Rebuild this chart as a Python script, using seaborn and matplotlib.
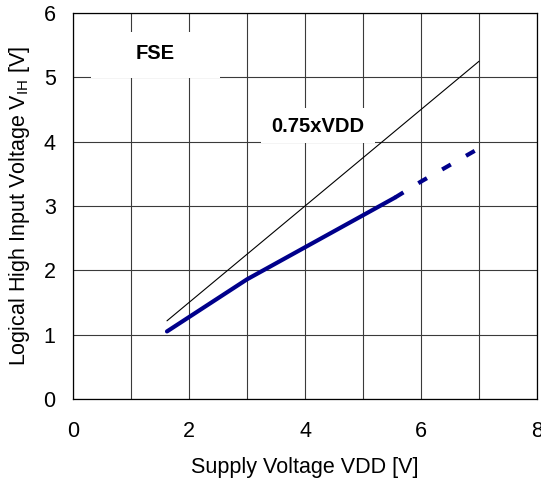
#VIH vs VDD characteristic (FSE pin) redrawn with seaborn
import numpy as np
import pandas as pd
import seaborn as sns
import matplotlib.pyplot as plt
from matplotlib.patches import Rectangle

# measured curve, solid part
vdd_meas = [1.62, 3.0, 5.55]
vih_meas = [1.05, 1.86, 3.13]
# extrapolated part (dashed)
vdd_ext = [5.55, 6.0, 6.0, 6.95]
vih_ext = [3.13, 3.33, 3.43, 3.87]
# reference line 0.75 x VDD
vdd_ref = [1.62, 7.0]
vih_ref = [1.215, 5.25]

xticks = [0, 2, 4, 6, 8]
yticks = [0, 1, 2, 3, 4, 5, 6]

sns.set_style("whitegrid")
plt.rcParams['font.family'] = ['Liberation Sans', 'DejaVu Sans']
plt.rcParams['mathtext.fontset'] = 'custom'
plt.rcParams['mathtext.rm'] = 'Liberation Sans'
for k in ['text.color', 'axes.labelcolor', 'xtick.color', 'ytick.color']:
    plt.rcParams[k] = 'black'

fig = plt.figure(figsize=(5.41, 4.83), dpi=100)
ax = fig.add_axes([0.135, 0.174, 0.8576, 0.799])

measData = pd.DataFrame({"vdd": vdd_meas, "vih": vih_meas})
extData = pd.DataFrame({"vdd": vdd_ext, "vih": vih_ext})
refData = pd.DataFrame({"vdd": vdd_ref, "vih": vih_ref})

sns.lineplot(x="vdd", y="vih", data=refData, color="black", lw=0.8, ax=ax, zorder=3, sort=False)
sns.lineplot(x="vdd", y="vih", data=measData, color="#00008B", lw=3.0, ax=ax, zorder=4,
             sort=False, solid_capstyle="round")
ext = sns.lineplot(x="vdd", y="vih", data=extData, color="#00008B", lw=3.0, ax=ax, zorder=4, sort=False)
ext.lines[-1].set_dashes((2.4, 4.2))

ax.set_xlim(0, 8)
ax.set_ylim(0, 6)
ax.set_xticks(xticks)
ax.set_yticks(yticks)
ax.set_xticks(np.arange(0, 9, 1), minor=True)
ax.grid(True, which="both", color="#3a3a3a", lw=0.8)
ax.tick_params(which="both", length=0, labelsize=15.5)
ax.tick_params(axis="x", pad=16)
ax.tick_params(axis="y", pad=12.5)
for s in ax.spines.values():
    s.set_color("black")
    s.set_linewidth(0.9)

# white label boxes that hide the grid
ax.add_patch(Rectangle((0.31, 4.985), 2.22, 0.72, facecolor="white", edgecolor="none", zorder=2.5))
ax.add_patch(Rectangle((3.24, 3.985), 1.97, 0.54, facecolor="white", edgecolor="none", zorder=2.5))
ax.text(1.41, 5.37, "FSE", fontsize=14.5, fontweight="bold", ha="center", va="center", zorder=2.6)
ax.text(4.22, 4.24, "0.75xVDD", fontsize=14.5, fontweight="bold", ha="center", va="center", zorder=2.6)

ax.set_xlabel("Supply Voltage VDD [V]", fontsize=15.5, labelpad=11)
ax.set_ylabel("Logical High Input Voltage V$_{\\mathrm{IH}}$ [V]", fontsize=15.5, labelpad=8)

fig.savefig("out.png", dpi=100)
